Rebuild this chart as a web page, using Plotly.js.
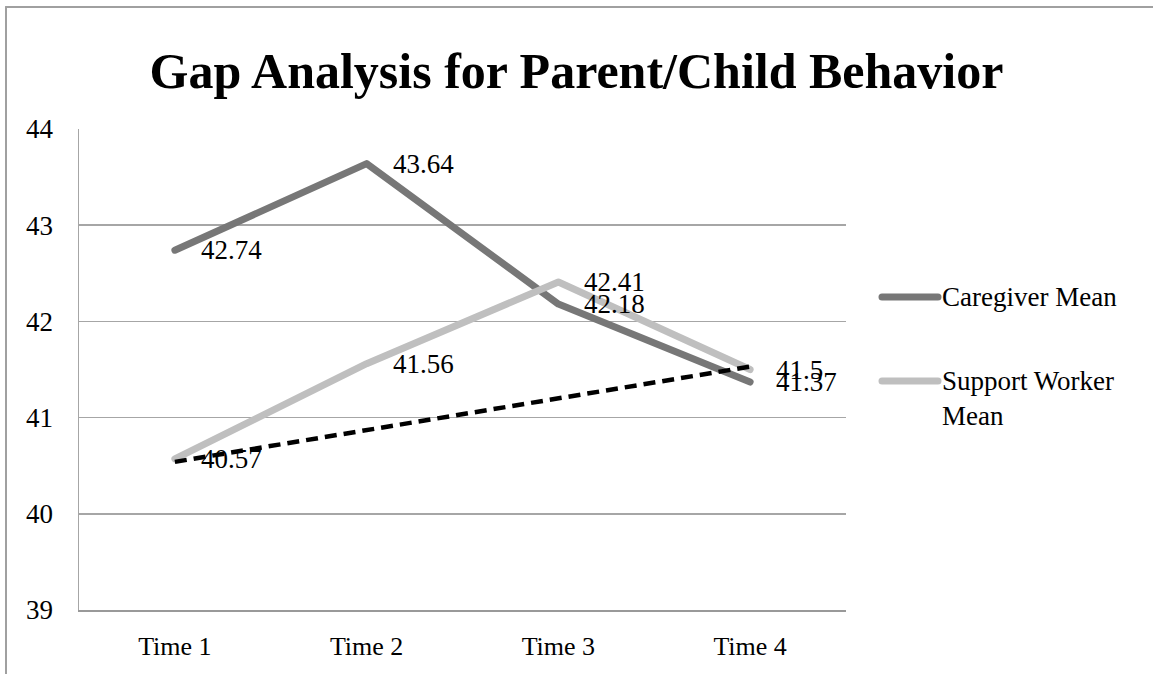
<!DOCTYPE html>
<html>
<head>
<meta charset="utf-8">
<script src="https://cdn.plot.ly/plotly-3.0.1.min.js"></script>
<style>
html, body { margin: 0; padding: 0; background: #ffffff; }
#chart { width: 1153px; height: 674px; }
.scatterlayer .trace:nth-child(-n+2) .js-line { stroke-linecap: round; stroke-linejoin: round; }
.shapelayer path { stroke-linecap: round; }
</style>
</head>
<body>
<div id="chart"></div>
<script>
// ---- data ----
const categories = ["Time 1", "Time 2", "Time 3", "Time 4"];
const caregiverMean = [42.74, 43.64, 42.18, 41.37];
const supportWorkerMean = [40.57, 41.56, 42.41, 41.5];
const dashedX = ["Time 1", "Time 4"];
const dashedY = [40.54, 41.53];
const seriesNames = ["Caregiver Mean", "Support Worker<br>Mean"];
const yTicks = [39, 40, 41, 42, 43, 44];

// ---- layout helpers (pixel -> paper) ----
const W = 1153, H = 674;
const M = { l: 79, r: 307, t: 129, b: 64 };
const PW = W - M.l - M.r, PH = H - M.t - M.b;
const px = x => (x - M.l) / PW;
const py = y => (H - M.b - y) / PH;

const FONT = "Liberation Serif";
const darkGray = "#777777";
const lightGray = "#bfbfbf";

const traces = [
  { x: categories, y: caregiverMean, type: "scatter", mode: "lines",
    line: { color: darkGray, width: 7 }, name: "Caregiver Mean", showlegend: false, hoverinfo: "skip" },
  { x: categories, y: supportWorkerMean, type: "scatter", mode: "lines",
    line: { color: lightGray, width: 7 }, name: "Support Worker Mean", showlegend: false, hoverinfo: "skip" },
  { x: dashedX, y: dashedY, type: "scatter", mode: "lines",
    line: { color: "#000000", width: 4.5, dash: "12px,7px" }, showlegend: false, hoverinfo: "skip" }
];

const annotations = [];
function addLabels(vals) {
  vals.forEach((v, i) => {
    annotations.push({ x: categories[i], y: v, xref: "x", yref: "y", text: String(v),
      showarrow: false, xanchor: "left", yanchor: "middle", xshift: 24,
      font: { family: FONT, size: 27, color: "#000000" } });
  });
}
addLabels(caregiverMean);
addLabels(supportWorkerMean);

// custom legend
const legendY = [297, 381];
const legendColors = [darkGray, lightGray];
const shapes = [];
legendY.forEach((yy, i) => {
  shapes.push({ type: "line", xref: "paper", yref: "paper", x0: px(882), x1: px(938), y0: py(yy), y1: py(yy),
    line: { color: legendColors[i], width: 7 } });
});
annotations.push({ xref: "paper", yref: "paper", x: px(940), y: py(297), xanchor: "left", yanchor: "middle",
  text: seriesNames[0], showarrow: false, align: "left", font: { family: FONT, size: 27, color: "#000" } });
annotations.push({ xref: "paper", yref: "paper", x: px(940), y: py(399), xanchor: "left", yanchor: "middle",
  text: seriesNames[1], showarrow: false, align: "left", font: { family: FONT, size: 27, color: "#000" } });

// outer frame (top and left edges visible)
shapes.push({ type: "line", xref: "paper", yref: "paper", x0: px(6), x1: px(1160), y0: py(7), y1: py(7),
  line: { color: "#a0a0a0", width: 2 } });
shapes.push({ type: "line", xref: "paper", yref: "paper", x0: px(6), x1: px(6), y0: py(7), y1: py(700),
  line: { color: "#a0a0a0", width: 2 } });

const layout = {
  width: W, height: H,
  margin: M,
  paper_bgcolor: "#ffffff", plot_bgcolor: "#ffffff",
  font: { family: FONT, size: 26, color: "#000000" },
  title: { text: "<b>Gap Analysis for Parent/Child Behavior</b>", x: 0.5, xanchor: "center",
    xref: "container", yref: "container", y: 1 - 70 / H, yanchor: "middle",
    font: { family: FONT, size: 50, color: "#000000" } },
  showlegend: false,
  xaxis: { type: "category", categoryarray: categories, range: [-0.5, 3.5],
    showgrid: false, zeroline: false, showline: true, linecolor: "#999999", linewidth: 2,
    ticks: "", ticklabelstandoff: 12, tickfont: { family: FONT, size: 26, color: "#000" }, fixedrange: true },
  yaxis: { range: [39, 44], tickvals: yTicks, ticktext: yTicks.map(String),
    showgrid: true, gridcolor: "#a6a6a6", gridwidth: 1.5, zeroline: false,
    showline: true, linecolor: "#a6a6a6", linewidth: 1.5, ticks: "", ticklabelstandoff: 19,
    tickfont: { family: FONT, size: 27, color: "#000" }, fixedrange: true },
  annotations: annotations,
  shapes: shapes
};

Plotly.newPlot("chart", traces, layout, { displayModeBar: false, staticPlot: true });
</script>
</body>
</html>
